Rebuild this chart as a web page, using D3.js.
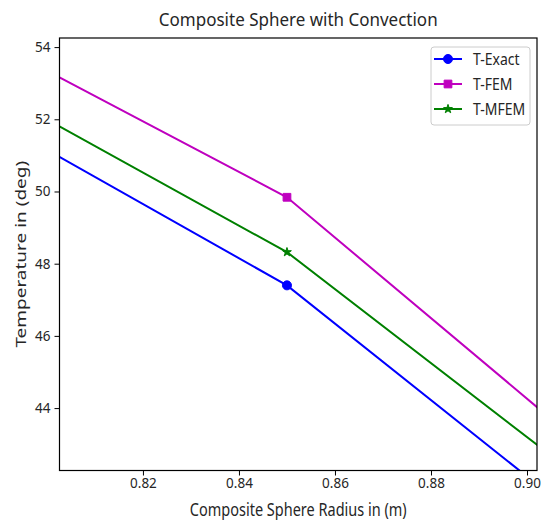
<!DOCTYPE html>
<html>
<head>
<meta charset="utf-8">
<script src="https://cdn.jsdelivr.net/npm/d3@7"></script>
<style>
	body { margin: 0; background: #ffffff; }
	text { font-family: "Noto Sans", "DejaVu Sans", sans-serif; fill: #262626; }
</style>
</head>
<body>
<div id="div_id_main"></div>
<script>

// data (markers only visible at 0.85, other points lie outside the view)
let g_vRadius = [0.75, 0.85, 0.95];
let g_vTExact = [54.91, 47.40, 36.81];
let g_vTFEM   = [56.85, 49.84, 38.68];
let g_vTMFEM  = [55.67, 48.32, 38.07];

let g_vSeriesNames = ["T-Exact", "T-FEM", "T-MFEM"];
let g_vXTicks = [0.82, 0.84, 0.86, 0.88, 0.90];
let g_vYTicks = [44, 46, 48, 50, 52, 54];

const WIDTH = 542;
const HEIGHT = 520;

const PLOT_L = 59.5;
const PLOT_R = 537;
const PLOT_T = 38;
const PLOT_B = 470.5;

function funcDraw_Main() {

	let vSeries = [
		{ name: g_vSeriesNames[0], values: g_vTExact, color: "#0000ff", marker: "circle" },
		{ name: g_vSeriesNames[1], values: g_vTFEM,   color: "#bf00bf", marker: "square" },
		{ name: g_vSeriesNames[2], values: g_vTMFEM,  color: "#008000", marker: "star" }
	];

	// ---------------------------------------------------

	let fScale_X = d3.scaleLinear()
						.domain([0.80262, 0.90208])
						.range([PLOT_L, PLOT_R]);

	let fScale_Y = d3.scaleLinear()
						.domain([42.271, 54.252])
						.range([PLOT_B, PLOT_T]);

	let svgMain = d3.select("#div_id_main")
					.append("svg")
						.attr("width", WIDTH)
						.attr("height", HEIGHT);

	svgMain.append("defs")
			.append("clipPath")
				.attr("id", "clip_plot")
			.append("rect")
				.attr("x", PLOT_L)
				.attr("y", PLOT_T)
				.attr("width", PLOT_R - PLOT_L)
				.attr("height", PLOT_B - PLOT_T);

	// -------------------- axes

	let gX = svgMain.append("g")
					.attr("transform", "translate(0," + PLOT_B + ")")
					.call(d3.axisBottom(fScale_X)
							.tickValues(g_vXTicks)
							.tickFormat(d3.format(".2f"))
							.tickSizeInner(5)
							.tickSizeOuter(0)
							.tickPadding(3));

	let gY = svgMain.append("g")
					.attr("transform", "translate(" + PLOT_L + ",0)")
					.call(d3.axisLeft(fScale_Y)
							.tickValues(g_vYTicks)
							.tickFormat(d3.format("d"))
							.tickSizeInner(5)
							.tickSizeOuter(0)
							.tickPadding(4));

	for (let g of [gX, gY]) {
		g.select(".domain").remove();
		g.selectAll(".tick line").attr("stroke", "#000").attr("stroke-width", 1);
		g.selectAll(".tick text")
			.attr("font-size", "13.5px")
			.attr("font-family", "\"Noto Sans\", \"DejaVu Sans\", sans-serif")
			.attr("fill", "#262626");
	}

	// -------------------- lines

	let fLine = d3.line()
					.x(function(d) { return fScale_X(d[0]); })
					.y(function(d) { return fScale_Y(d[1]); });

	let gLines = svgMain.append("g")
						.attr("clip-path", "url(#clip_plot)");

	vSeries.forEach(function(s) {

		let vPoints = g_vRadius.map(function(x, i) { return [x, s.values[i]]; });

		gLines.append("path")
				.attr("d", fLine(vPoints))
				.attr("fill", "none")
				.attr("stroke", s.color)
				.attr("stroke-width", 2);

		vPoints.forEach(function(p) {
			funcDraw_Marker(gLines, s.marker, fScale_X(p[0]), fScale_Y(p[1]), s.color);
		});
	});

	// frame
	svgMain.append("rect")
			.attr("x", PLOT_L)
			.attr("y", PLOT_T)
			.attr("width", PLOT_R - PLOT_L)
			.attr("height", PLOT_B - PLOT_T)
			.attr("fill", "none")
			.attr("stroke", "#000")
			.attr("stroke-width", 1.2);

	// -------------------- texts (the picture is a little stretched in height)

	svgMain.append("text")
			.attr("transform", "translate(" + ((PLOT_L + PLOT_R) / 2) + ",26) scale(1,1.1)")
			.attr("text-anchor", "middle")
			.attr("font-size", "17px")
			.text("Composite Sphere with Convection");

	svgMain.append("text")
			.attr("transform", "translate(" + ((PLOT_L + PLOT_R) / 2) + ",515.5) scale(1,1.25)")
			.attr("text-anchor", "middle")
			.attr("font-size", "14.5px")
			.text("Composite Sphere Radius in (m)");

	svgMain.append("text")
			.attr("transform", "translate(25.5," + ((PLOT_T + PLOT_B) / 2) + ") rotate(-90) scale(1.31,1)")
			.attr("text-anchor", "middle")
			.attr("font-size", "14.5px")
			.text("Temperature in (deg)");

	// -------------------- legend

	let gLegend = svgMain.append("g");

	gLegend.append("rect")
			.attr("x", 431)
			.attr("y", 47)
			.attr("width", 99)
			.attr("height", 78)
			.attr("rx", 3)
			.attr("fill", "#ffffff")
			.attr("fill-opacity", 0.8)
			.attr("stroke", "#cccccc")
			.attr("stroke-width", 1);

	vSeries.forEach(function(s, i) {

		let y = 59 + i * 25;

		gLegend.append("line")
				.attr("x1", 434)
				.attr("x2", 462)
				.attr("y1", y)
				.attr("y2", y)
				.attr("stroke", s.color)
				.attr("stroke-width", 2);

		funcDraw_Marker(gLegend, s.marker, 448, y, s.color);

		gLegend.append("text")
				.attr("transform", "translate(473," + (y + 5.5) + ") scale(1,1.1)")
				.attr("font-size", "14px")
				.text(s.name);
	});
}

function funcDraw_Marker(g, sType, x, y, color) {

	let symbol = d3.symbolCircle;
	let size = 64;

	switch (sType) {
		case "circle": symbol = d3.symbolCircle; size = 64; break;
		case "square": symbol = d3.symbolSquare; size = 60; break;
		case "star":   symbol = d3.symbolStar;   size = 24; break;
	}

	g.append("path")
		.attr("d", d3.symbol().type(symbol).size(size)())
		.attr("transform", "translate(" + x + "," + y + ")")
		.attr("fill", color)
		.attr("stroke", color)
		.attr("stroke-width", 1);
}

funcDraw_Main();

</script>
</body>
</html>
